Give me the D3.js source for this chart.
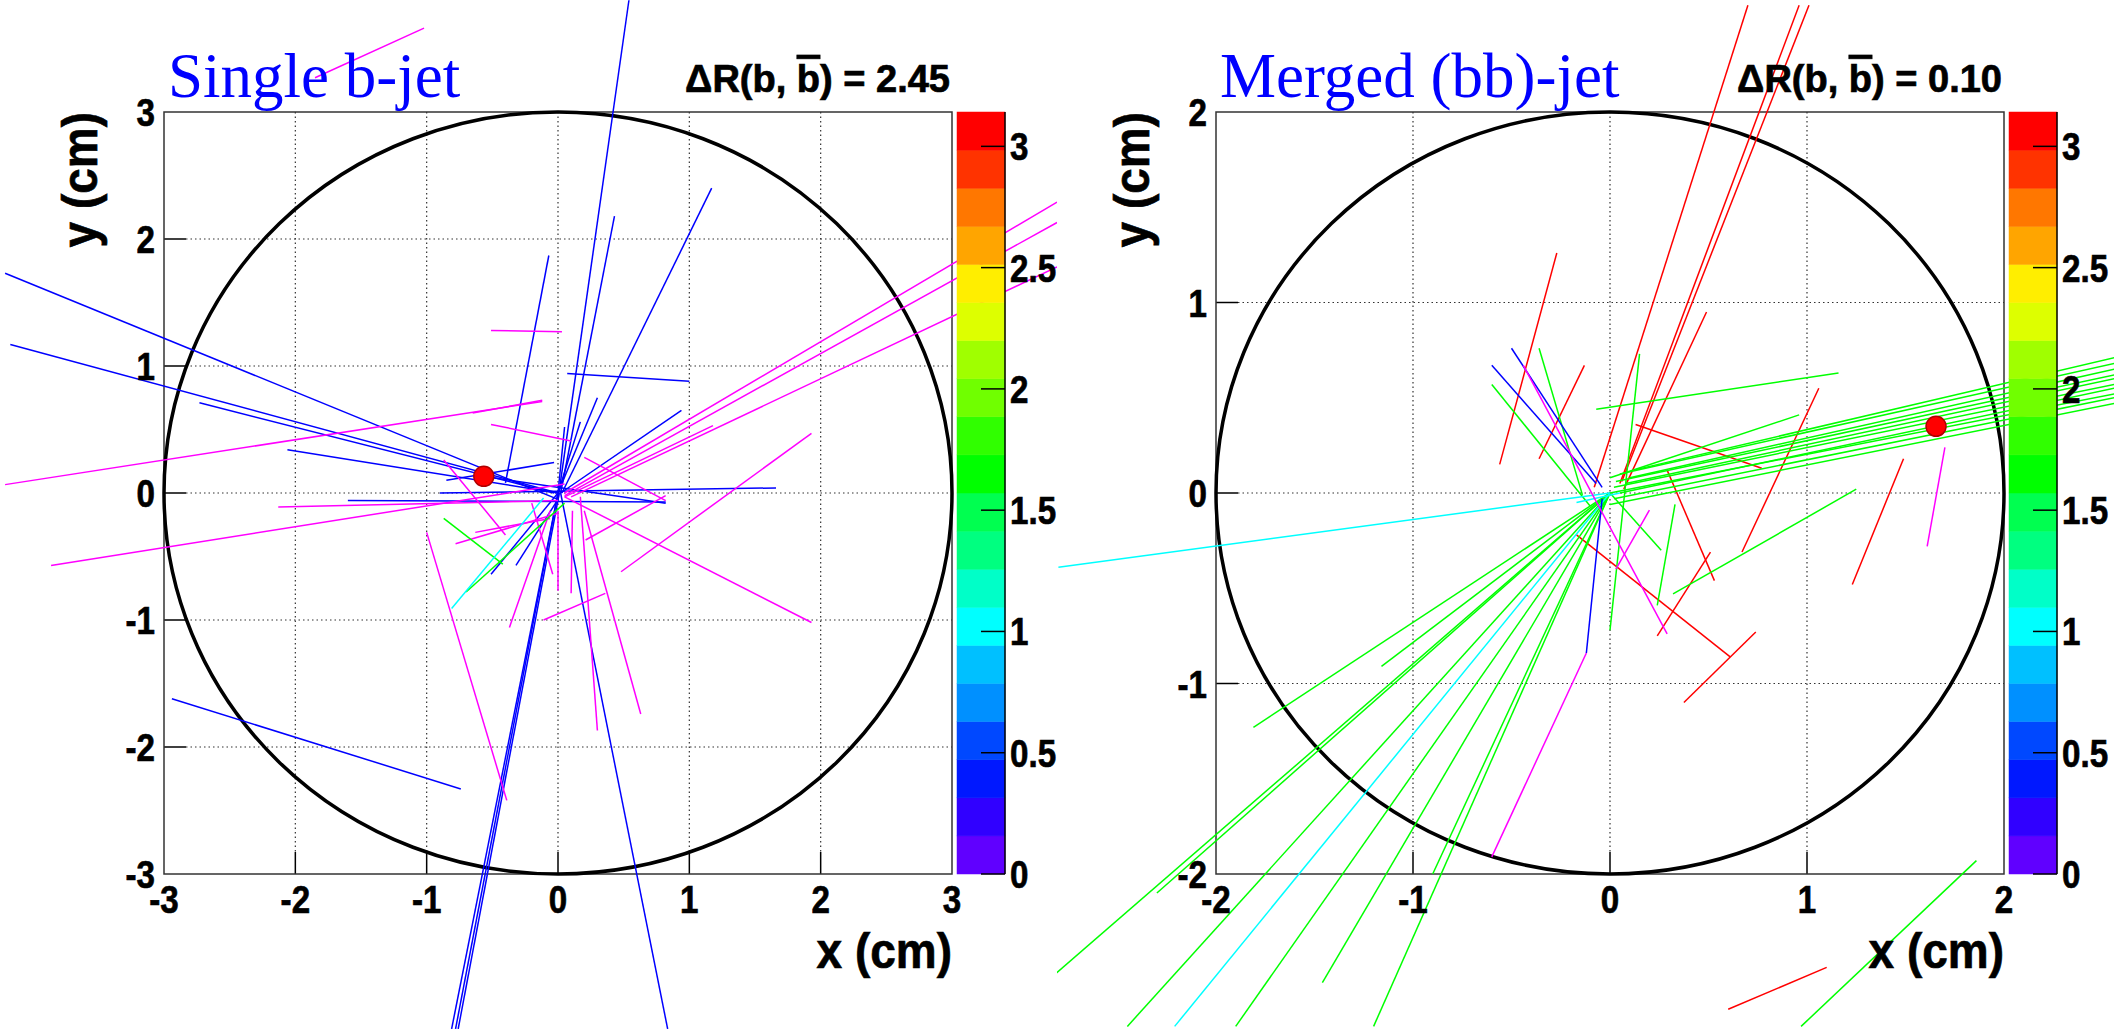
<!DOCTYPE html>
<html><head><meta charset="utf-8">
<script src="https://cdn.jsdelivr.net/npm/d3@7"></script>
<style>body{margin:0;background:#fff}svg{display:block}
text{font-family:"Liberation Sans",Arial,sans-serif;font-weight:bold;fill:#000;stroke:#000;stroke-width:0.7px}
text.title{stroke:none}</style>
</head><body><svg id="chart" width="2114" height="1029"></svg>
<script>
// tracks: [x1, y1, x2, y2, colour key] in cm
const leftTracks = [
  [-4.21,1.73,0.0,-0.05,'b'],[-4.17,1.17,0.0,0.0,'b'],[-2.73,0.71,-0.03,0.0,'b'],[-2.06,0.34,0.0,0.0,'b'],
  [-1.60,-0.06,0.82,-0.07,'b'],[-0.90,0.0,1.66,0.04,'b'],[-0.85,0.10,-0.03,0.24,'b'],[-0.07,1.87,-0.40,0.08,'b'],
  [0.07,0.94,1.0,0.88,'b'],[0.0,0.0,0.17,0.56,'b'],[0.0,0.0,0.30,0.75,'b'],[0.02,0.0,0.94,0.65,'b'],
  [0.0,-0.05,0.54,3.88,'b'],[0.02,0.0,0.43,2.18,'b'],[0.03,0.0,1.17,2.40,'b'],[0.0,0.0,-0.81,-4.22,'b'],
  [0.0,0.0,-0.78,-4.22,'b'],[0.01,0.0,-0.76,-4.22,'b'],[0.02,0.0,0.835,-4.22,'b'],[-2.94,-1.62,-0.74,-2.33,'b'],
  [-0.51,-0.64,0.0,0.0,'b'],[-0.32,-0.57,0.0,-0.05,'b'],[-0.56,0.13,0.82,-0.08,'b'],[0.0,0.0,0.05,0.52,'b'],
  [-4.21,0.066,-0.12,0.72,'m'],[-0.65,0.63,-0.12,0.73,'m'],[-3.86,-0.57,0.05,0.07,'m'],[-2.13,-0.11,0.0,-0.06,'m'],
  [-0.51,1.28,0.03,1.27,'m'],[-0.51,0.54,0.10,0.41,'m'],[-0.87,0.26,-0.40,-0.33,'m'],[-1.0,-0.31,-0.39,-2.42,'m'],
  [-0.78,-0.40,0.0,-0.16,'m'],[-0.63,-0.31,-0.06,-0.20,'m'],[-0.37,-1.06,-0.06,-0.14,'m'],[0.0,-0.14,0.0,-0.77,'m'],
  [0.11,-0.14,0.10,-0.79,'m'],[0.17,-0.03,0.30,-1.87,'m'],[0.20,-0.14,0.63,-1.74,'m'],[-0.11,-1.0,0.36,-0.79,'m'],
  [-0.20,-0.08,-0.04,-0.64,'m'],[0.05,-0.03,1.93,-1.02,'m'],[0.48,-0.62,1.93,0.47,'m'],[0.21,-0.37,0.82,-0.02,'m'],
  [0.20,0.28,0.82,-0.06,'m'],[0.05,0.0,3.80,2.29,'m'],[0.05,-0.02,3.80,2.13,'m'],[0.10,-0.03,3.80,1.78,'m'],
  [0.05,-0.03,1.18,0.53,'m'],[-1.85,3.27,-1.02,3.66,'m'],
  [-0.87,-0.20,-0.42,-0.56,'g'],[-0.70,-0.78,0.05,-0.08,'g'],[-0.81,-0.91,-0.11,-0.04,'c']
];
const rightTracks = [
  [-0.08,0.03,0.70,2.56,'r'],[0.05,0.05,0.96,2.56,'r'],[0.06,0.06,1.01,2.56,'r'],[0.07,0.02,0.49,0.95,'r'],
  [-0.56,0.15,-0.27,1.26,'r'],[-0.36,0.18,-0.13,0.67,'r'],[0.13,0.36,0.77,0.13,'r'],[0.67,-0.31,1.06,0.55,'r'],
  [0.29,0.12,0.53,-0.46,'r'],[0.24,-0.75,0.51,-0.31,'r'],[-0.17,-0.22,0.61,-0.86,'r'],[0.375,-1.10,0.74,-0.73,'r'],
  [1.23,-0.48,1.49,0.18,'r'],[0.60,-2.71,1.10,-2.49,'r'],
  [0.00,-0.06,2.56,0.47,'g'],[0.02,-0.03,2.56,0.50,'g'],[0.00,0.00,2.56,0.52,'g'],[0.05,0.00,2.56,0.55,'g'],
  [0.02,0.03,2.56,0.57,'g'],[0.08,0.05,2.56,0.60,'g'],[0.03,0.06,2.56,0.62,'g'],[0.10,0.08,2.56,0.65,'g'],
  [0.05,0.10,2.56,0.68,'g'],[0.12,0.12,2.56,0.71,'g'],
  [-0.07,0.44,1.16,0.63,'g'],[0.0,0.08,0.96,0.41,'g'],[0.32,-0.53,1.25,0.02,'g'],[-0.36,0.76,-0.14,-0.01,'g'],
  [-0.60,0.57,-0.10,-0.07,'g'],[0.15,0.73,0.0,-0.72,'g'],[0.24,-0.59,0.33,-0.06,'g'],[0.0,0.0,0.26,-0.30,'g'],
  [0.0,0.0,-2.81,-2.52,'g'],[0.0,0.0,-2.45,-2.80,'g'],[0.0,0.0,-1.46,-2.57,'g'],[0.0,0.0,-1.81,-1.23,'g'],
  [0.0,0.0,-1.16,-0.91,'g'],[0.97,-2.80,1.86,-1.93,'g'],[0.0,0.0,-2.30,-2.10,'g'],[0.0,0.0,-1.90,-2.80,'g'],
  [0.0,0.0,-1.20,-2.80,'g'],[0.0,0.0,-0.90,-2.00,'g'],
  [-2.80,-0.39,0.0,0.0,'c'],[0.0,0.0,-2.21,-2.80,'c'],[-0.17,-0.05,0.05,0.0,'c'],
  [-0.50,0.76,-0.04,0.03,'b'],[-0.60,0.67,-0.07,0.05,'b'],[-0.04,-0.03,-0.12,-0.84,'b'],
  [-0.44,0.67,0.29,-0.74,'m'],[-0.12,-0.84,-0.60,-1.91,'m'],[0.20,-0.09,0.03,-0.40,'m'],[1.70,0.24,1.61,-0.28,'m']
];
const leftVertex = [-0.565, 0.131], rightVertex = [1.655, 0.35];
const leftTicks = [-3,-2,-1,0,1,2,3], rightTicks = [-2,-1,0,1,2];
const zTicks = [0,0.5,1,1.5,2,2.5,3];
const trackColour = {b:'#0000ff', m:'#ff00ff', g:'#00ff00', c:'#00ffff', r:'#ff0000'};
// 20 contour colours, bottom (0) to top (pi)
const palette = ['#6000ff','#3000ff','#0018ff','#0048ff','#0090ff','#00c0ff','#00ffff','#00ffc8','#00ff80','#00ff50',
  '#00ff00','#30ff00','#70ff00','#a0ff00','#ddff00','#ffee00','#ffa500','#ff7700','#ff3300','#ff0000'];

const svg = d3.select('#chart');
const frameTop = 112, frameBottom = 874;
const panels = [
  {title:'Single b-jet', dr:'2.45', R:3, ticks:leftTicks, tracks:leftTracks, vertex:leftVertex, fx:[164,952], clip:[0,1057]},
  {title:'Merged (bb)-jet', dr:'0.10', R:2, ticks:rightTicks, tracks:rightTracks, vertex:rightVertex, fx:[1216,2004], clip:[1057,2114]}
];
// ROOT's bold labels are a bit narrower than Liberation Sans Bold
const squeeze = (px, py) => `translate(${px},${py}) scale(0.85,1)`;

panels.forEach((p, i) => {
  const x = d3.scaleLinear().domain([-p.R, p.R]).range(p.fx);
  const y = d3.scaleLinear().domain([-p.R, p.R]).range([frameBottom, frameTop]);
  const z = d3.scaleLinear().domain([0, Math.PI]).range([frameBottom, frameTop]);
  svg.append('clipPath').attr('id','clip'+i).append('rect')
    .attr('x', p.clip[0]).attr('y', 0).attr('width', p.clip[1]-p.clip[0]).attr('height', 1029);
  const g = svg.append('g').attr('clip-path','url(#clip'+i+')');

  // grid + ticks
  const inner = p.ticks.slice(1, -1);
  g.selectAll('.gx').data(inner).join('line').attr('x1', x).attr('x2', x).attr('y1', frameTop).attr('y2', frameBottom - 22)
    .attr('stroke','#333').attr('stroke-width',1.2).attr('stroke-dasharray','1.5,3');
  g.selectAll('.gy').data(inner).join('line').attr('y1', y).attr('y2', y).attr('x1', p.fx[0] + 22).attr('x2', p.fx[1])
    .attr('stroke','#333').attr('stroke-width',1.2).attr('stroke-dasharray','1.5,3');
  g.selectAll('.tx').data(inner).join('line').attr('x1', x).attr('x2', x).attr('y1', frameBottom).attr('y2', frameBottom - 22)
    .attr('stroke','#000').attr('stroke-width',1.5);
  g.selectAll('.ty').data(inner).join('line').attr('y1', y).attr('y2', y).attr('x1', p.fx[0]).attr('x2', p.fx[0] + 22)
    .attr('stroke','#000').attr('stroke-width',1.5);
  g.append('rect').attr('x', p.fx[0]).attr('y', frameTop).attr('width', p.fx[1]-p.fx[0]).attr('height', frameBottom-frameTop)
    .attr('fill','none').attr('stroke','#333').attr('stroke-width',1.5);

  // detector circle
  g.append('ellipse').attr('cx', x(0)).attr('cy', y(0)).attr('rx', x(p.R)-x(0)).attr('ry', y(0)-y(p.R))
    .attr('fill','none').attr('stroke','#000').attr('stroke-width',3.5);

  // tracks
  g.selectAll('.trk').data(p.tracks).join('line')
    .attr('x1', d => x(d[0])).attr('y1', d => y(d[1])).attr('x2', d => x(d[2])).attr('y2', d => y(d[3]))
    .attr('stroke', d => trackColour[d[4]]).attr('stroke-width', 1.5);
  g.append('circle').attr('cx', x(p.vertex[0])).attr('cy', y(p.vertex[1])).attr('r', 10)
    .attr('fill','#ff0000').attr('stroke','#b00000').attr('stroke-width',1.5);

  // colour bar
  const cb = [p.fx[1] + 5, p.fx[1] + 53];
  const step = Math.PI / palette.length;
  g.selectAll('.band').data(palette).join('rect')
    .attr('x', cb[0]).attr('width', cb[1]-cb[0])
    .attr('y', (c, k) => z((k+1)*step)).attr('height', (c, k) => z(k*step) - z((k+1)*step))
    .attr('fill', c => c).attr('stroke', c => c).attr('stroke-width', 0.5);
  g.append('line').attr('x1', cb[1]).attr('x2', cb[1]).attr('y1', frameTop).attr('y2', frameBottom).attr('stroke','#000').attr('stroke-width',1.5);
  g.selectAll('.zt').data(zTicks).join('line').attr('x1', cb[1]-24).attr('x2', cb[1]).attr('y1', z).attr('y2', z)
    .attr('stroke','#000').attr('stroke-width',1.5);
  g.selectAll('.zl').data(zTicks).join('text').attr('transform', d => squeeze(cb[1] + 5, z(d) + 14))
    .style('font-size','39px').text(d => d);

  // axis labels
  g.selectAll('.xl').data(p.ticks).join('text').attr('transform', d => squeeze(x(d), 913)).attr('text-anchor','middle')
    .style('font-size','39px').text(d => d);
  g.selectAll('.yl').data(p.ticks).join('text').attr('transform', d => squeeze(p.fx[0] - 9, y(d) + 14)).attr('text-anchor','end')
    .style('font-size','39px').text(d => d);
  g.append('text').attr('transform', `translate(${p.fx[1]},968) scale(0.92,1)`).attr('text-anchor','end')
    .style('font-size','50px').text('x (cm)');
  g.append('text').attr('transform', `translate(${p.fx[0]-67},${frameTop}) rotate(-90) scale(0.92,1)`).attr('text-anchor','end')
    .style('font-size','50px').text('y (cm)');

  // titles
  g.append('text').attr('class','title').attr('x', p.fx[0] + 4).attr('y', 97).style('font-family','"Liberation Serif","Times New Roman",serif')
    .style('font-weight','normal').style('font-size','63px').style('fill','#0000ff').text(p.title);
  const t = g.append('text').attr('x', p.fx[1] - 2).attr('y', 92).attr('text-anchor','end').style('font-size','38px');
  t.append('tspan').text('\u0394R(b, ');
  t.append('tspan').style('text-decoration','overline').text('b');
  t.append('tspan').text(') = ' + p.dr);
});
</script></body></html>
